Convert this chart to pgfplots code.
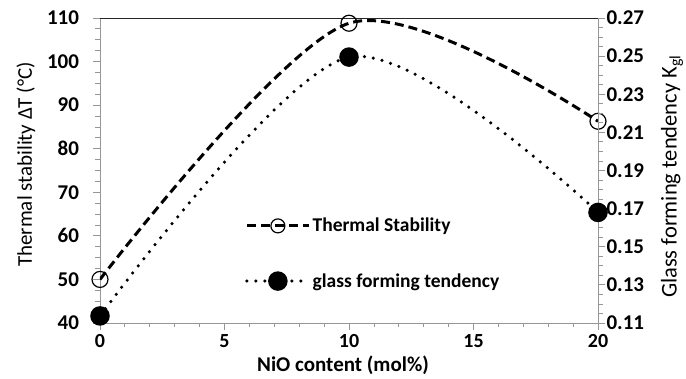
\documentclass[border=0pt]{standalone}
\usepackage{fontspec}
\setmainfont{Carlito}
\usepackage{pgfplots}
\pgfplotsset{compat=1.18}
\definecolor{axgray}{RGB}{150,150,150}
\begin{document}
\begin{tikzpicture}[x=1pt,y=1pt]
\useasboundingbox (-100,-56) rectangle (586,323);
\pgfplotsset{
  common/.style={
    at={(0,0)}, anchor=south west, scale only axis,
    width=498pt, height=305pt,
    xmin=0, xmax=20,
    axis line style={axgray, line width=0.8pt},
    tick align=outside, major tick length=7pt, minor tick length=4.5pt,
    tick style={axgray, line width=0.8pt},
    ticklabel style={font=\fontsize{21}{24}\selectfont\bfseries, black},
    /pgf/number format/assume math mode=true,
    legend image code/.code={\draw[##1, mark repeat=2, mark phase=2] plot coordinates {(0pt,0pt) (31pt,0pt) (62pt,0pt)};},
  },
}
\begin{axis}[common,
  ymin=40, ymax=110,
  axis x line*=bottom, axis y line*=left,
  xtick={0,5,10,15,20}, ytick={40,50,60,70,80,90,100,110},
  minor x tick num=4, minor y tick num=3,
  xticklabel style={font=\fontsize{20}{23}\selectfont\bfseries, yshift=-1pt},
  yticklabel style={xshift=-10.5pt},
  xlabel={NiO content (mol\%)},
  xlabel style={font=\fontsize{21}{24}\selectfont\bfseries, at={(axis description cs:0.488,-0.158)}, anchor=base},
  ylabel={Thermal stability ΔT (°C)},
  ylabel style={font=\fontsize{21}{24}\selectfont, at={(axis description cs:-0.1486,0.52)}, anchor=center},
]
\draw[black!85, line width=0.8pt] (rel axis cs:0,1) -- (rel axis cs:1,1);
\addplot[black, line width=3pt, dash pattern=on 9pt off 5pt, smooth, tension=0.5,
  mark=o, mark size=8pt, mark options={solid, line width=1.2pt}]
  coordinates {(0,50) (10,108.8) (20,86.3)};
\end{axis}
\begin{axis}[common,
  ymin=0.11, ymax=0.27,
  axis x line=none, axis y line*=right,
  ytick={0.11,0.13,0.15,0.17,0.19,0.21,0.23,0.25,0.27},
  minor y tick num=3,
  yticklabel style={xshift=-2pt, /pgf/number format/fixed, /pgf/number format/precision=2, /pgf/number format/fixed zerofill},
  ylabel={Glass forming tendency K\textsubscript{gl}},
  ylabel style={font=\fontsize{22.5}{25}\selectfont, at={(axis description cs:1.1486,0.48)}, anchor=center},
  legend style={draw=none, fill=none, at={(0.285,0.357)}, anchor=north west,
    font=\fontsize{19.5}{22}\selectfont\bfseries, row sep=36pt},
  legend cell align=left,
]
\addlegendimage{black, line width=3pt, dash pattern=on 9pt off 5pt, mark=o, mark size=7pt, mark options={solid, line width=1.2pt}}
\addlegendentry{Thermal Stability}
\addplot[black, line width=3.5pt, line cap=round, dash pattern=on 0pt off 9pt, smooth, tension=0.5,
  mark=*, mark size=8pt, mark options={solid, fill=black}]
  coordinates {(0,0.1137) (10,0.2495) (20,0.1680)};
\addlegendentry{glass forming tendency}
\end{axis}
\end{tikzpicture}
\end{document}
